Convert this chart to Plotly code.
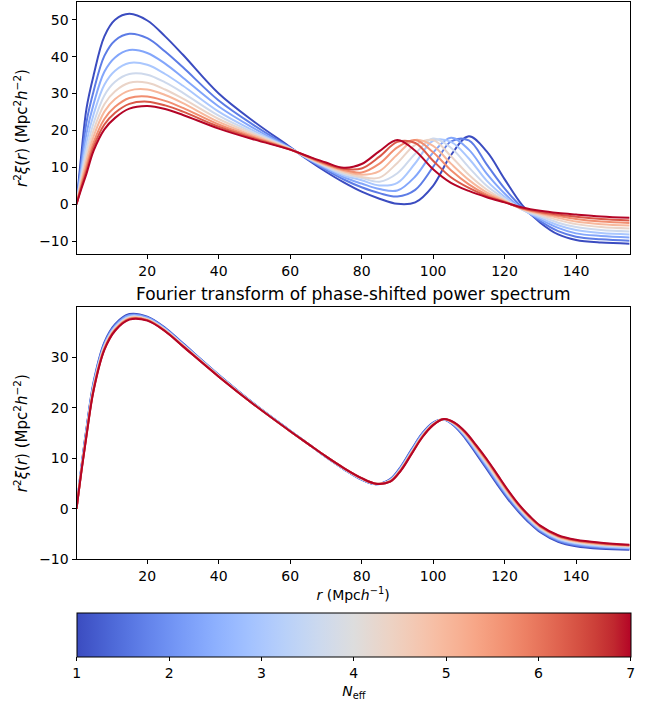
import plotly.graph_objects as go
from plotly.colors import sample_colorscale

# ---------------- data ----------------
N_eff = [1.0, 1.667, 2.333, 3.0, 3.667, 4.333, 5.0, 5.667, 6.333, 7.0]

r_top = [0.2, 1.5, 3, 5, 8, 11, 15, 20, 25, 30, 40, 50, 60, 65, 70, 75, 80, 85, 90, 95,
         100, 105, 110, 115, 120, 125, 130, 135, 140, 147, 155]
top_1 = [0, 13, 26, 35, 45.5, 50, 51.6, 49.8, 45.5, 40.5, 30.0, 22.3, 15.5, 12.0, 8.8, 5.9, 3.4, 1.5, 0.1, 0.5,
         5.0, 13.3, 18.4, 14.3, 6.8, -0.3, -5.0, -8.2, -9.7, -10.4, -10.7]
top_2 = [0, 11.1, 22.3, 30.7, 40.2, 44.4, 46.2, 45.0, 41.4, 37.1, 28.1, 21.3, 15.3, 12.2, 9.3, 6.7, 4.6, 3.0, 2.1, 3.9,
         10.1, 17.0, 17.3, 10.8, 4.3, -0.9, -4.6, -7.3, -8.8, -9.5, -9.9]
top_3 = [0, 9.6, 19.2, 27.2, 35.9, 39.8, 41.8, 41.0, 38.1, 34.3, 26.5, 20.5, 15.2, 12.3, 9.7, 7.3, 5.6, 4.1, 3.7, 7.5,
         14.0, 18.0, 14.8, 8.3, 2.9, -1.3, -4.1, -6.4, -7.9, -8.6, -9.0]
top_4 = [0, 8.3, 16.8, 24.4, 32.4, 36.2, 38.3, 37.8, 35.3, 32.1, 25.1, 19.8, 15.1, 12.4, 10.0, 7.8, 6.5, 5.1, 5.8, 11.1,
         17.2, 16.9, 12.4, 6.4, 2.0, -1.5, -3.7, -5.7, -7.0, -7.8, -8.2]
top_5 = [0, 7.3, 14.8, 22.0, 29.5, 33.2, 35.3, 35.1, 33.0, 30.2, 24.0, 19.3, 15.1, 12.5, 10.2, 8.2, 7.1, 6.1, 8.4, 13.7,
         17.8, 15.3, 10.0, 5.0, 1.5, -1.5, -3.3, -5.0, -6.2, -7.0, -7.4]
top_6 = [0, 6.4, 13.1, 20.1, 27.1, 30.6, 32.9, 32.9, 31.1, 28.6, 23.1, 18.9, 15.0, 12.6, 10.4, 8.6, 7.4, 7.2, 11.2, 16.1,
         17.4, 13.0, 8.0, 4.0, 1.1, -1.4, -2.9, -4.3, -5.4, -6.2, -6.6]
top_7 = [0, 5.7, 11.7, 18.4, 25.1, 28.5, 30.8, 31.1, 29.6, 27.4, 22.3, 18.5, 14.9, 12.7, 10.6, 9.0, 8.0, 9.0, 13.5, 17.4,
         15.8, 11.0, 6.6, 3.2, 0.9, -1.3, -2.6, -3.7, -4.7, -5.4, -5.8]
top_8 = [0, 5.0, 10.3, 16.8, 23.1, 26.4, 28.8, 29.2, 28.0, 26.1, 21.6, 18.1, 14.9, 12.8, 10.8, 9.3, 8.6, 11.0, 15.4, 17.4,
         14.1, 9.2, 5.4, 2.6, 0.7, -1.2, -2.3, -3.2, -4.0, -4.7, -5.1]
top_9 = [0, 4.5, 9.2, 15.6, 21.6, 24.8, 27.2, 27.8, 26.8, 25.1, 21.0, 17.8, 14.8, 12.9, 11.0, 9.6, 9.7, 12.9, 16.9, 16.6,
         11.8, 7.3, 4.4, 2.2, 0.6, -1.1, -2.1, -2.8, -3.4, -4.0, -4.4]
top_10 = [0, 4.0, 8.3, 14.5, 20.3, 23.4, 25.9, 26.6, 25.8, 24.2, 20.5, 17.5, 14.8, 13.0, 11.3, 9.9, 10.9, 14.4, 17.4, 14.5,
          9.5, 5.8, 3.6, 1.9, 0.5, -0.9, -1.8, -2.4, -2.8, -3.3, -3.7]

r_bot = [0.2, 1.5, 3, 5, 8, 11, 15, 20, 25, 30, 40, 50,
         60, 65, 70, 75, 80, 84, 88, 91, 94, 97, 100, 103, 106, 109, 112, 115, 118, 121, 124, 127, 130,
         135, 140, 147, 155]
bot_1 = [0, 8.0, 16.0, 25.2, 33.0, 36.6, 38.6, 38.1, 35.9, 32.8, 26.6, 20.8,
         15.5, 12.9, 10.3, 7.9, 5.8, 4.9, 5.9, 8.4, 11.8, 15.0, 17.1, 17.7, 16.4, 14.0, 11.0, 7.9, 4.8, 1.9, -0.6, -2.8, -4.6,
         -6.5, -7.4, -7.9, -8.1]
bot_2 = [0, 7.8, 15.8, 24.9, 32.8, 36.4, 38.4, 38.0, 35.8, 32.7, 26.5, 20.8,
         15.5, 12.9, 10.3, 7.9, 5.8, 4.9, 5.8, 8.3, 11.7, 14.9, 17.0, 17.7, 16.5, 14.2, 11.3, 8.2, 5.1, 2.2, -0.4, -2.6, -4.4,
         -6.3, -7.2, -7.7, -7.9]
bot_3 = [0, 7.7, 15.5, 24.7, 32.5, 36.2, 38.3, 37.9, 35.7, 32.6, 26.5, 20.7,
         15.5, 12.9, 10.3, 7.9, 5.9, 4.9, 5.7, 8.2, 11.5, 14.8, 16.9, 17.7, 16.6, 14.4, 11.5, 8.5, 5.4, 2.5, -0.1, -2.4, -4.2,
         -6.1, -7.0, -7.5, -7.8]
bot_4 = [0, 7.6, 15.3, 24.5, 32.3, 36.0, 38.1, 37.7, 35.6, 32.5, 26.4, 20.7,
         15.5, 12.9, 10.3, 8.0, 5.9, 4.9, 5.7, 8.0, 11.4, 14.6, 16.9, 17.7, 16.7, 14.6, 11.7, 8.8, 5.7, 2.7, 0.1, -2.2, -4.0,
         -5.9, -6.8, -7.4, -7.7]
bot_5 = [0, 7.4, 15.2, 24.2, 32.2, 35.9, 38.0, 37.6, 35.5, 32.5, 26.4, 20.7,
         15.4, 12.9, 10.4, 8.0, 6.0, 5.0, 5.6, 8.0, 11.3, 14.5, 16.8, 17.8, 16.8, 14.7, 12.0, 9.0, 5.9, 2.9, 0.2, -2.0, -3.9,
         -5.8, -6.7, -7.2, -7.5]
bot_6 = [0, 7.3, 15.0, 24.1, 32.0, 35.7, 37.9, 37.6, 35.4, 32.4, 26.3, 20.7,
         15.4, 12.9, 10.4, 8.0, 6.0, 5.0, 5.6, 7.9, 11.2, 14.5, 16.8, 17.8, 16.9, 14.9, 12.1, 9.2, 6.1, 3.1, 0.4, -1.9, -3.7,
         -5.6, -6.5, -7.1, -7.4]
bot_7 = [0, 7.2, 14.9, 23.9, 31.9, 35.6, 37.8, 37.5, 35.4, 32.3, 26.3, 20.6,
         15.4, 12.9, 10.4, 8.1, 6.0, 5.0, 5.5, 7.8, 11.1, 14.4, 16.7, 17.8, 16.9, 15.0, 12.3, 9.4, 6.3, 3.3, 0.5, -1.7, -3.6,
         -5.5, -6.4, -7.0, -7.3]
bot_8 = [0, 7.2, 14.7, 23.8, 31.7, 35.5, 37.7, 37.4, 35.3, 32.3, 26.3, 20.6,
         15.4, 12.9, 10.4, 8.1, 6.1, 5.0, 5.5, 7.7, 11.0, 14.3, 16.7, 17.8, 17.0, 15.1, 12.4, 9.6, 6.5, 3.4, 0.7, -1.6, -3.5,
         -5.4, -6.3, -6.9, -7.2]
bot_9 = [0, 7.1, 14.6, 23.6, 31.6, 35.4, 37.6, 37.4, 35.2, 32.2, 26.2, 20.6,
         15.4, 12.9, 10.4, 8.1, 6.1, 5.0, 5.4, 7.7, 11.0, 14.3, 16.6, 17.8, 17.0, 15.2, 12.6, 9.8, 6.7, 3.6, 0.8, -1.5, -3.4,
         -5.3, -6.2, -6.8, -7.2]
bot_10 = [0, 7.0, 14.5, 23.5, 31.5, 35.3, 37.5, 37.3, 35.2, 32.2, 26.2, 20.6,
          15.4, 12.9, 10.4, 8.1, 6.1, 5.0, 5.4, 7.6, 10.9, 14.2, 16.6, 17.8, 17.1, 15.3, 12.7, 9.9, 6.8, 3.7, 0.9, -1.4, -3.3,
          -5.2, -6.1, -6.7, -7.1]

x_ticks = [20, 40, 60, 80, 100, 120, 140]
y_ticks_top = [-10, 0, 10, 20, 30, 40, 50]
y_ticks_bot = [-10, 0, 10, 20, 30]
cb_ticks = [1, 2, 3, 4, 5, 6, 7]

top_series = [top_1, top_2, top_3, top_4, top_5, top_6, top_7, top_8, top_9, top_10]
bot_series = [bot_1, bot_2, bot_3, bot_4, bot_5, bot_6, bot_7, bot_8, bot_9, bot_10]

# ---------------- colormap (coolwarm) ----------------
_cw = [(59, 76, 192), (68, 90, 204), (77, 104, 215), (87, 117, 225), (98, 130, 234), (108, 142, 241),
       (119, 154, 247), (130, 165, 251), (141, 176, 254), (152, 185, 255), (163, 194, 255), (174, 201, 253),
       (184, 208, 249), (194, 213, 244), (204, 217, 238), (213, 219, 230), (221, 221, 221), (229, 216, 209),
       (236, 211, 197), (241, 204, 185), (245, 196, 173), (247, 187, 160), (247, 177, 148), (247, 166, 135),
       (244, 154, 123), (241, 141, 111), (236, 127, 99), (229, 112, 88), (222, 96, 77), (213, 80, 66),
       (203, 62, 56), (192, 40, 47), (180, 4, 38)]
coolwarm = [[i / (len(_cw) - 1), "rgb(%d,%d,%d)" % c] for i, c in enumerate(_cw)]
nmin, nmax = min(N_eff), max(N_eff)
line_colors = sample_colorscale(coolwarm, [(n - nmin) / (nmax - nmin) for n in N_eff])

FONT = "DejaVu Sans"
TICK = 14
fig = go.Figure()

for ys, col in zip(top_series, line_colors):
    fig.add_trace(go.Scatter(x=r_top, y=ys, mode="lines", xaxis="x", yaxis="y",
                             line=dict(color=col, width=2, shape="spline", smoothing=1.0),
                             hoverinfo="skip", showlegend=False))
for ys, col in zip(bot_series, line_colors):
    fig.add_trace(go.Scatter(x=r_bot, y=ys, mode="lines", xaxis="x2", yaxis="y2",
                             line=dict(color=col, width=2, shape="spline", smoothing=1.0),
                             hoverinfo="skip", showlegend=False))

# colorbar carrier
fig.add_trace(go.Scatter(x=[None], y=[None], mode="markers", xaxis="x2", yaxis="y2", showlegend=False,
                         marker=dict(color=[nmin], colorscale=coolwarm, cmin=nmin, cmax=nmax, showscale=True,
                                     colorbar=dict(orientation="h", x=0.5435, xanchor="center",
                                                   y=(701 - 621) / 701, yanchor="top",
                                                   len=(631 - 76.6) / 651, lenmode="fraction",
                                                   thickness=44, thicknessmode="pixels",
                                                   xpad=0, ypad=0, outlinewidth=1, outlinecolor="black",
                                                   ticks="outside", ticklen=4, tickwidth=1, tickcolor="black",
                                                   tickvals=cb_ticks,
                                                   tickfont=dict(family=FONT, size=TICK, color="black"),
                                                   title=dict(text="<i>N</i><sub>eff</sub>", side="bottom",
                                                              font=dict(family=FONT, size=TICK, color="black"))))))

axis_common = dict(showline=True, linecolor="black", linewidth=1, mirror=True, showgrid=False, zeroline=False,
                   ticks="outside", ticklen=4, tickwidth=1, tickcolor="black",
                   tickfont=dict(family=FONT, size=TICK, color="black"))
ylab = "<i>r</i><sup>2</sup><i>ξ</i>(<i>r</i>) (Mpc<sup>2</sup><i>h</i><sup>−2</sup>)"
xdom = [76.5 / 651, 629.6 / 651]

fig.update_layout(
    width=651, height=701, margin=dict(l=0, r=0, t=0, b=0),
    plot_bgcolor="white", paper_bgcolor="white", showlegend=False,
    font=dict(family=FONT, color="black", size=TICK),
    xaxis=dict(domain=xdom, range=[0.2, 155], tickvals=x_ticks, anchor="y", **axis_common),
    yaxis=dict(domain=[(701 - 257.7) / 701, (701 - 1.7) / 701], range=[-13.6, 54.9], tickvals=y_ticks_top,
               anchor="x", title=dict(text=ylab, standoff=7, font=dict(family=FONT, size=15)), **axis_common),
    xaxis2=dict(domain=xdom, range=[0.2, 155], tickvals=x_ticks, anchor="y2",
                title=dict(text="<i>r</i> (Mpc<i>h</i><sup>−1</sup>)", standoff=6, font=dict(family=FONT, size=14)),
                **axis_common),
    yaxis2=dict(domain=[(701 - 566.7) / 701, (701 - 311) / 701], range=[-10, 40], tickvals=y_ticks_bot,
                anchor="x2", title=dict(text=ylab, standoff=7, font=dict(family=FONT, size=15)), **axis_common),
    annotations=[dict(text="Fourier transform of phase-shifted power spectrum", xref="paper", yref="paper",
                      x=(xdom[0] + xdom[1]) / 2, y=(701 - 298) / 701, xanchor="center", yanchor="middle",
                      showarrow=False, font=dict(family=FONT, size=17, color="black"))],
)

fig.write_html("out.html")
